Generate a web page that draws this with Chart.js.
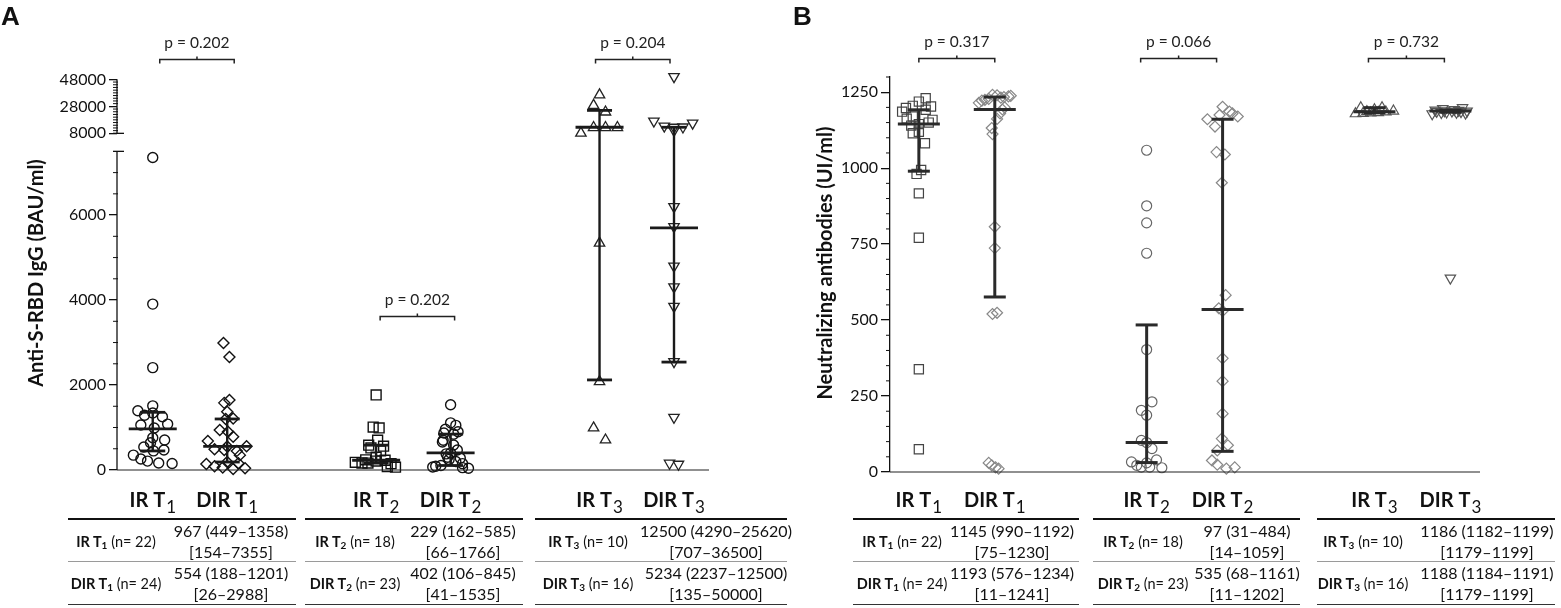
<!DOCTYPE html>
<html><head><meta charset="utf-8">
<script src="https://cdn.jsdelivr.net/npm/chart.js@4.4.1/dist/chart.umd.min.js"></script>
<style>
html,body{margin:0;padding:0;background:#fff;}
body{width:1561px;height:608px;position:relative;overflow:hidden;font-family:Lato,'DejaVu Sans',sans-serif;color:#111;}
.pane{position:absolute;top:0;height:520px;}
#paneA{left:0;width:790px;} #paneB{left:790px;width:771px;}
.tbl{position:absolute;top:518px;height:87px;border-top:2px solid #111;border-bottom:1.5px solid #333;box-sizing:border-box;}
.row{position:absolute;left:0;right:0;}
.row.r1{top:0;height:41px;border-bottom:1px solid #9a9a9a;}
.row.r2{top:42px;height:41px;}
.lab{position:absolute;top:50%;transform:translate(-50%,-50%);white-space:nowrap;font-size:14.5px;}
.lab b{font-weight:700}
.lab sub{font-size:10px;font-weight:700;vertical-align:-2px;line-height:0}
.val{position:absolute;top:50%;transform:translate(-50%,-50%);white-space:nowrap;text-align:center;font-size:16px;line-height:21px;}
</style></head><body>
<div id="paneA" class="pane"><canvas id="cA"></canvas></div>
<div id="paneB" class="pane"><canvas id="cB"></canvas></div>
<script>
// ---------------- categories ----------------
const groupNames = ['IR','DIR','IR','DIR','IR','DIR'];
const timepoints = ['1','1','2','2','3','3'];
const catPos = [1,2,4,5,7,8];
const groupN = [22,24,18,23,10,16];

// ---------------- Panel A: Anti-S-RBD IgG (BAU/ml) ----------------
const igg_IR_T1  = [7355,3905,2410,1510,1395,1340,1290,1255,1080,1060,990,760,705,640,540,470,450,350,260,210,165,154];
const igg_IR_T1_dx = [0,0,0,0,-0.2,0,-0.11,0.13,0.2,-0.16,0.02,0,0.16,-0.03,-0.12,0.15,0.01,-0.26,-0.16,-0.07,0.08,0.26];
const igg_DIR_T1 = [2988,2660,1650,1580,1370,1210,1201,940,900,780,680,560,554,490,470,450,350,188,140,160,90,60,40,26];
const igg_DIR_T1_dx = [-0.05,0.03,0.03,-0.04,0,0.08,-0.02,-0.1,0.01,0.08,-0.26,0.26,0,-0.17,-0.04,0.13,0.17,0,-0.28,0.15,-0.17,-0.06,0.24,0.08];
const igg_IR_T2  = [1766,1010,990,700,585,560,520,450,300,240,229,210,180,165,162,150,80,66];
const igg_IR_T2_dx = [0,-0.04,0.04,0.02,-0.1,0.1,-0.07,0.06,0,-0.14,0.12,0,-0.28,-0.19,-0.11,0.2,0.15,0.26];
const igg_DIR_T2 = [1535,1110,1050,960,900,870,845,700,660,590,470,402,380,300,280,250,200,150,106,90,70,55,41];
const igg_DIR_T2_dx = [0,0,0.07,-0.07,0.1,-0.09,0.04,-0.1,-0.11,0.04,0.09,0,-0.06,-0.04,0.13,-0.02,0.07,0.16,-0.13,-0.2,-0.24,0.16,0.24];
const igg_IR_T3  = [36500,28700,23800,12300,12300,12300,8200,5340,2080,990,707];
const igg_IR_T3_dx = [0,-0.08,0.08,-0.08,0.08,0.24,-0.25,0,0,-0.08,0.08];
const igg_DIR_T3 = [50000,17100,13400,12500,10200,12700,15600,6200,5730,4800,4310,3850,2550,1240,160,135];
const igg_DIR_T3_dx = [0,-0.27,-0.13,0,0,0.12,0.25,0,0,0,0,0,0,0,-0.06,0.06];
const iggMedian = [967,554,229,402,12500,5700];
const iggQ1     = [449,188,162,106,2120,2540];
const iggQ3     = [1358,1201,585,845,25000,12500];
const iggTicks  = [0,2000,4000,6000,8000,28000,48000];
const iggP      = ['p = 0.202','p = 0.202','p = 0.204'];
const iggMedText   = ['967 (449–1358)','554 (188–1201)','229 (162–585)','402 (106–845)','12500 (4290–25620)','5234 (2237–12500)'];
const iggRangeText = ['[154–7355]','[26–2988]','[66–1766]','[41–1535]','[707–36500]','[135–50000]'];

// ---------------- Panel B: Neutralizing antibodies (UI/ml) ----------------
const nab_IR_T1  = [75,338,771,917,981,994,1082,1115,1120,1140,1145,1150,1159,1163,1170,1186,1192,1198,1203,1205,1219,1230];
const nab_IR_T1_dx = [0,0,0,0,-0.03,0.03,0.08,-0.08,0,-0.1,0,0.13,0.18,-0.16,-0.08,-0.22,0.09,-0.17,0.16,-0.08,0,0.09];
const nab_DIR_T1 = [11,15,22,30,520,524,737,807,1112,1132,1162,1180,1193,1200,1215,1222,1225,1228,1232,1234,1236,1238,1240,1241];
const nab_DIR_T1_dx = [0.05,0.01,-0.04,-0.08,-0.03,0.03,0,0,-0.03,-0.04,0.03,0.07,0.1,0.13,-0.21,-0.17,-0.13,-0.08,0.08,0.12,0.18,0.21,0.03,-0.03];
const nab_IR_T2  = [1059,876,820,720,403,231,203,187,104,97,77,40,33,30,22,16,16,14];
const nab_IR_T2_dx = [0,0,0,0,0,0.07,-0.07,0,-0.07,0,0.07,0.13,-0.2,0,-0.13,-0.07,0.04,0.2];
const nab_DIR_T2 = [1202,1186,1180,1175,1170,1161,1137,1053,1045,952,582,539,530,374,299,192,110,88,71,38,24,15,11];
const nab_DIR_T2_dx = [0,0.09,0.13,-0.04,0.2,-0.2,-0.1,-0.08,0.03,-0.01,0.04,-0.05,0,0,0,0,-0.01,0.07,-0.07,-0.14,-0.07,0.16,0.05];
const nab_IR_T3  = [1179,1180,1182,1183,1185,1186,1188,1192,1199,1199];
const nab_IR_T3_dx = [-0.25,-0.15,-0.05,0.05,0.15,-0.1,0.25,0,0.1,-0.18];
const nab_DIR_T3 = [638,1179,1181,1183,1184,1185,1186,1187,1188,1188,1189,1190,1191,1193,1196,1199];
const nab_DIR_T3_dx = [0,-0.24,0.2,-0.12,0.08,-0.05,0.14,-0.18,0.02,0.22,-0.08,0.11,-0.2,0.05,-0.1,0.16];
const nabMedian = [1145,1193,97,535,1186,1188];
const nabQ1     = [990,576,31,68,1182,1184];
const nabQ3     = [1192,1234,484,1161,1199,1191];
const nabTicks  = [0,250,500,750,1000,1250];
const nabP      = ['p = 0.317','p = 0.066','p = 0.732'];
const nabMedText   = ['1145 (990–1192)','1193 (576–1234)','97 (31–484)','535 (68–1161)','1186 (1182–1199)','1188 (1184–1191)'];
const nabRangeText = ['[75–1230]','[11–1241]','[14–1059]','[11–1202]','[1179–1199]','[1179–1199]'];

// ---------------- broken axis mapping for panel A ----------------
const BREAK_LOW = 7500, BREAK_HIGH = 8000, BREAK_GAP = 424, UPPER_K = 0.03176;
const dispA = v => v <= BREAK_LOW ? v : BREAK_LOW + BREAK_GAP + (v - BREAK_HIGH) * UPPER_K;
const ident = v => v;

Chart.defaults.font.family = "Lato, 'DejaVu Sans', sans-serif";
Chart.defaults.color = '#111';

function seg(ctx,x1,y1,x2,y2){ctx.beginPath();ctx.moveTo(x1,y1);ctx.lineTo(x2,y2);ctx.stroke();}

const decor = {
  id:'decor',
  afterDraw(chart, args, o){
    const ctx = chart.ctx, xs = chart.scales.x, ys = chart.scales.y, ca = chart.chartArea;
    const Y = v => ys.getPixelForValue(o.yMap(v));
    const X = v => xs.getPixelForValue(v);
    ctx.save();
    ctx.lineCap = 'butt';
    // x baseline
    ctx.strokeStyle = '#222'; ctx.lineWidth = 1.2;
    seg(ctx, ca.left, ca.bottom, ca.right, ca.bottom);
    // broken y axis segments
    ctx.strokeStyle = '#111'; ctx.lineWidth = 1.3;
    o.axisSegments.forEach(([a,b]) => seg(ctx, ca.left, Y(a), ca.left, Y(b)));
    o.caps.forEach(v => seg(ctx, ca.left-4, Y(v), ca.left+7, Y(v)));
    ctx.lineWidth = 1;
    o.minor.forEach(v => seg(ctx, ca.left-4, Y(v), ca.left+(o.minorRight||0), Y(v)));
    // median + IQR bars
    ctx.strokeStyle = o.errColor;
    o.median.forEach((m,i) => {
      const cx = X(catPos[i]);
      ctx.lineWidth = o.errLW;
      seg(ctx, cx, Y(o.q1[i]), cx, Y(o.q3[i]));
      ctx.lineWidth = o.barLW;
      seg(ctx, cx-o.wQ/2, Y(o.q1[i]), cx+o.wQ/2, Y(o.q1[i]));
      seg(ctx, cx-o.wQ/2, Y(o.q3[i]), cx+o.wQ/2, Y(o.q3[i]));
      seg(ctx, cx-o.wMed/2, Y(m), cx+o.wMed/2, Y(m));
    });
    // p-value brackets
    o.brackets.forEach((b,k) => {
      const x1 = X(catPos[b.pair[0]]) + b.dx, x2 = X(catPos[b.pair[1]]) + b.dx;
      const y = (b.yVal !== undefined) ? Math.round(Y(b.yVal)) + 0.5 : b.yPx;
      ctx.strokeStyle = '#222'; ctx.lineWidth = 1.5;
      ctx.beginPath(); ctx.moveTo(x1, y+4); ctx.lineTo(x1, y); ctx.lineTo(x2, y); ctx.lineTo(x2, y+4); ctx.stroke();
      seg(ctx, (x1+x2)/2, y, (x1+x2)/2, y-3);
      ctx.fillStyle = '#222'; ctx.font = "15.5px Lato"; ctx.textAlign = 'center'; ctx.textBaseline = 'alphabetic';
      ctx.fillText(o.pTexts[k], (x1+x2)/2, y-12);
    });
    // category labels with subscripts
    ctx.fillStyle = '#111'; ctx.textAlign = 'left'; ctx.textBaseline = 'alphabetic';
    catPos.forEach((p,i) => {
      const main = groupNames[i] + ' T', sub = timepoints[i];
      ctx.font = "bold 20px Lato"; const w1 = ctx.measureText(main).width;
      ctx.font = "17px Lato"; const w2 = ctx.measureText(sub).width;
      const sx = X(p) - (w1 + w2 + 1)/2;
      ctx.font = "bold 20px Lato"; ctx.fillText(main, sx, o.catY);
      ctx.font = "17px Lato"; ctx.fillText(sub, sx + w1 + 1, o.catY + 6);
    });
    // y-axis title
    ctx.save();
    ctx.translate(o.titleX, o.titleY); ctx.rotate(-Math.PI/2);
    ctx.font = "bold 20px Lato"; ctx.textAlign = 'center'; ctx.textBaseline = 'middle';
    ctx.fillText(o.title, 0, 0);
    ctx.restore();
    // panel letter
    ctx.font = "bold 26px 'Liberation Sans'"; ctx.textAlign = 'left'; ctx.textBaseline = 'alphabetic';
    ctx.fillText(o.letter, o.letterX, 25);
    ctx.restore();
  }
};

function makeDatasets(series, offsets, styles, yMap){
  return series.map((vals, i) => ({
    data: vals.map((v, j) => ({x: catPos[i] + offsets[i][j], y: yMap(v)})),
    showLine: false,
    clip: false,
    pointStyle: styles[i].style,
    pointRadius: styles[i].r,
    pointRotation: styles[i].rot || 0,
    pointBorderColor: styles[i].color,
    pointBackgroundColor: 'rgba(0,0,0,0)',
    pointBorderWidth: styles[i].bw || 1.2,
    pointHoverRadius: styles[i].r
  }));
}

function minorList(from, to, step, skip){
  const out = [];
  for (let v = from; v <= to + 1e-9; v += step) if (!skip(v)) out.push(v);
  return out;
}

// ---------- Chart A ----------
const stylesA = [
  {style:'circle', r:5, color:'#111', bw:1.4},
  {style:'rectRot', r:5.5, color:'#111', bw:1.4},
  {style:'rect', r:7, color:'#111', bw:1.4},
  {style:'circle', r:5, color:'#111', bw:1.4},
  {style:'triangle', r:6, color:'#222', bw:1.3},
  {style:'triangle', r:6, rot:180, color:'#222', bw:1.3}
];
new Chart(document.getElementById('cA'), {
  type: 'scatter',
  data: { datasets: makeDatasets(
    [igg_IR_T1, igg_DIR_T1, igg_IR_T2, igg_DIR_T2, igg_IR_T3, igg_DIR_T3],
    [igg_IR_T1_dx, igg_DIR_T1_dx, igg_IR_T2_dx, igg_DIR_T2_dx, igg_IR_T3_dx, igg_DIR_T3_dx],
    stylesA, dispA) },
  options: {
    animation: false, responsive: true, maintainAspectRatio: false,
    layout: { padding: { top: 77, right: 81, bottom: 50, left: 0 } },
    plugins: {
      legend: { display: false }, tooltip: { enabled: false },
      decor: {
        yMap: dispA,
        axisSegments: [[0, BREAK_LOW], [BREAK_HIGH, 48000]],
        caps: [BREAK_LOW, BREAK_HIGH],
        minor: minorList(500, 7000, 500, v => v % 2000 === 0).concat(minorList(10000, 46000, 2000, v => v === 28000)),
        minorRight: 1,
        median: iggMedian, q1: iggQ1, q3: iggQ3,
        errColor: '#1a1a1a', errLW: 2.4, barLW: 2.8, wMed: 48, wQ: 25,
        brackets: [ {pair:[0,1], yPx:59.5, dx:7}, {pair:[2,3], yVal:3620, dx:4}, {pair:[4,5], yPx:59.5, dx:-4} ],
        pTexts: iggP,
        catY: 507,
        title: 'Anti-S-RBD IgG (BAU/ml)', titleX: 37, titleY: 273,
        letter: 'A', letterX: 1
      }
    },
    scales: {
      x: { type: 'linear', min: 0.52, max: 8.47, display: false },
      y: {
        type: 'linear', min: 0, max: 9250,
        afterFit(s){ s.width = 117; },
        afterBuildTicks(s){ s.ticks = iggTicks.map(v => ({value: dispA(v)})); },
        ticks: { autoSkip: false, callback: (v, i) => String(iggTicks[i]), font: { size: 16 }, color: '#111', padding: 3 },
        grid: { drawOnChartArea: false, drawTicks: true, tickLength: 8, color: '#111', lineWidth: 1.3 },
        border: { display: false }
      }
    }
  },
  plugins: [decor]
});

// ---------- Chart B ----------
const stylesB = [
  {style:'rect', r:6.5, color:'#444'},
  {style:'rectRot', r:5.5, color:'#888'},
  {style:'circle', r:5, color:'#666'},
  {style:'rectRot', r:5.5, color:'#888'},
  {style:'triangle', r:6, color:'#555'},
  {style:'triangle', r:6, rot:180, color:'#555'}
];
new Chart(document.getElementById('cB'), {
  type: 'scatter',
  data: { datasets: makeDatasets(
    [nab_IR_T1, nab_DIR_T1, nab_IR_T2, nab_DIR_T2, nab_IR_T3, nab_DIR_T3],
    [nab_IR_T1_dx, nab_DIR_T1_dx, nab_IR_T2_dx, nab_DIR_T2_dx, nab_IR_T3_dx, nab_DIR_T3_dx],
    stylesB, ident) },
  options: {
    animation: false, responsive: true, maintainAspectRatio: false,
    layout: { padding: { top: 77, right: 81, bottom: 48, left: 0 } },
    plugins: {
      legend: { display: false }, tooltip: { enabled: false },
      decor: {
        yMap: ident,
        axisSegments: [], caps: [],
        minor: minorList(50, 1300, 50, v => v % 250 === 0),
        minorRight: 0,
        median: nabMedian, q1: nabQ1, q3: nabQ3,
        errColor: '#2a2a2a', errLW: 3, barLW: 3, wMed: 42, wQ: 22,
        brackets: [ {pair:[0,1], yPx:58.5, dx:0}, {pair:[2,3], yPx:58.5, dx:-6}, {pair:[4,5], yPx:58.5, dx:-6} ],
        pTexts: nabP,
        catY: 507,
        title: 'Neutralizing antibodies (UI/ml)', titleX: 36, titleY: 263,
        letter: 'B', letterX: 3
      }
    },
    scales: {
      x: { type: 'linear', min: 0.62, max: 8.39, display: false },
      y: {
        type: 'linear', min: 0, max: 1300,
        afterFit(s){ s.width = 100; },
        afterBuildTicks(s){ s.ticks = nabTicks.map(v => ({value: v})); },
        ticks: { autoSkip: false, callback: (v, i) => String(nabTicks[i]), font: { size: 16 }, color: '#111', padding: 3 },
        grid: { drawOnChartArea: false, drawTicks: true, tickLength: 9, color: '#111', lineWidth: 1.3 },
        border: { display: true, color: '#111', width: 1.3 }
      }
    }
  },
  plugins: [decor]
});

// ---------- summary tables ----------
const tableGeoA = [ {left:68,right:296,lc:116,vc:231}, {left:305,right:523,lc:355,vc:463}, {left:535,right:787,lc:588,vc:716} ];
const tableGeoB = [ {left:853,right:1079,lc:902,vc:1012}, {left:1093,right:1300,lc:1143,vc:1247}, {left:1317,right:1555,lc:1363,vc:1487} ];
function buildTables(geo, medTxt, rngTxt){
  geo.forEach((g, k) => {
    const t = document.createElement('div'); t.className = 'tbl';
    t.style.left = g.left + 'px'; t.style.width = (g.right - g.left) + 'px';
    [0,1].forEach(r => {
      const i = 2*k + r;
      const row = document.createElement('div'); row.className = 'row r' + (r+1);
      row.innerHTML = '<span class="lab" style="left:' + (g.lc - g.left) + 'px"><b>' + groupNames[i] + ' T<sub>' + timepoints[i] + '</sub></b> (n= ' + groupN[i] + ')</span>' +
                      '<span class="val" style="left:' + (g.vc - g.left) + 'px">' + medTxt[i] + '<br>' + rngTxt[i] + '</span>';
      t.appendChild(row);
    });
    document.body.appendChild(t);
  });
}
buildTables(tableGeoA, iggMedText, iggRangeText);
buildTables(tableGeoB, nabMedText, nabRangeText);
</script>
</body></html>
